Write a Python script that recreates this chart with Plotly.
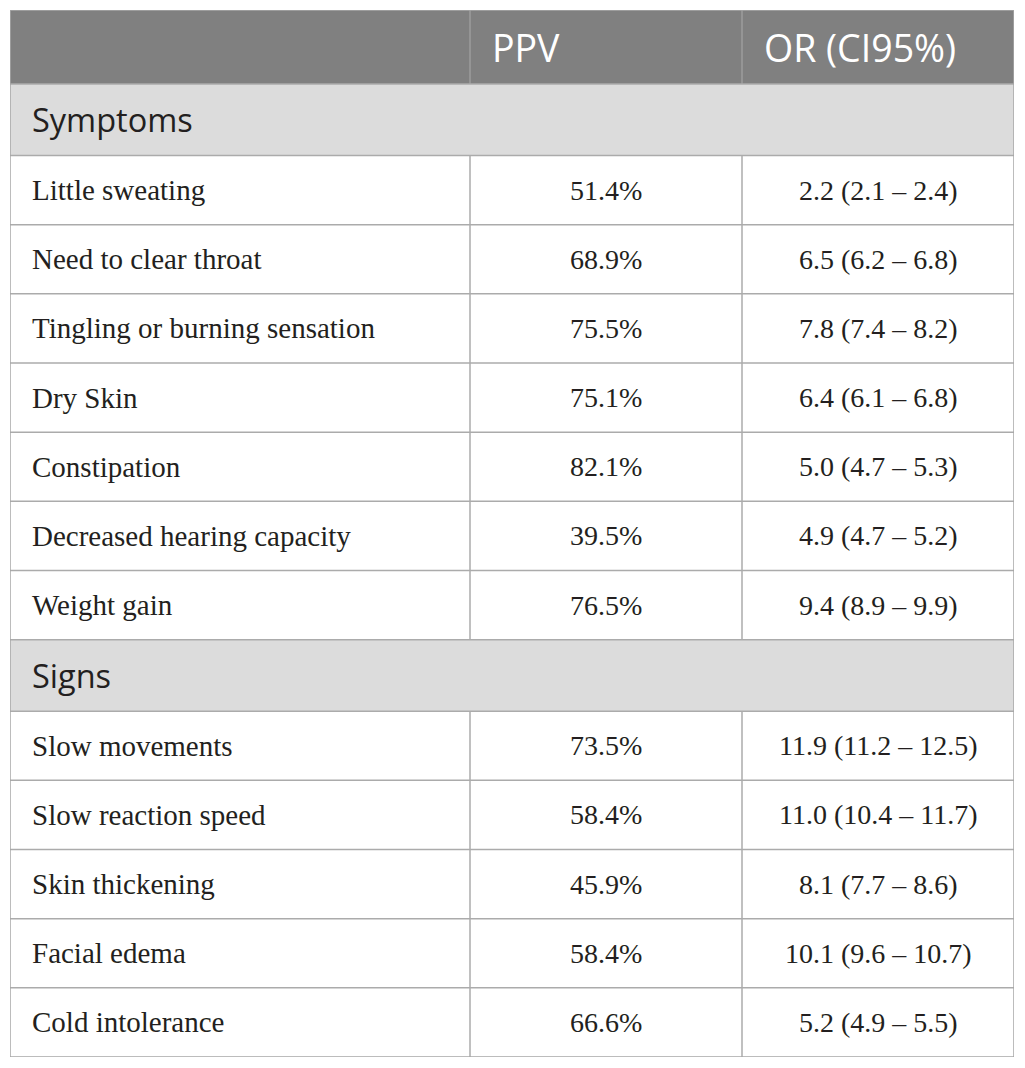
import numpy as np
import plotly.graph_objects as go

# table content
header_labels = ["", "PPV", "OR (CI95%)"]

section_names = ["Symptoms", "Signs"]

symptom_items = [
    "Little sweating",
    "Need to clear throat",
    "Tingling or burning sensation",
    "Dry Skin",
    "Constipation",
    "Decreased hearing capacity",
    "Weight gain",
]
symptom_ppv = ["51.4%", "68.9%", "75.5%", "75.1%", "82.1%", "39.5%", "76.5%"]
symptom_or = [
    "2.2 (2.1 \u2013 2.4)",
    "6.5 (6.2 \u2013 6.8)",
    "7.8 (7.4 \u2013 8.2)",
    "6.4 (6.1 \u2013 6.8)",
    "5.0 (4.7 \u2013 5.3)",
    "4.9 (4.7 \u2013 5.2)",
    "9.4 (8.9 \u2013 9.9)",
]

sign_items = [
    "Slow movements",
    "Slow reaction speed",
    "Skin thickening",
    "Facial edema",
    "Cold intolerance",
]
sign_ppv = ["73.5%", "58.4%", "45.9%", "58.4%", "66.6%"]
sign_or = [
    "11.9 (11.2 \u2013 12.5)",
    "11.0 (10.4 \u2013 11.7)",
    "8.1 (7.7 \u2013 8.6)",
    "10.1 (9.6 \u2013 10.7)",
    "5.2 (4.9 \u2013 5.5)",
]

# styling
col_widths = [460, 272, 272]
row_height = {"header": 74, "section": 71.5, "data": 69.15}
pad_left = 20

header_fill = "#808080"
header_line = "#9c9c9c"
section_fill = "#dcdcdc"
grid_line = "#ababab"
text_color = "#231f20"

sans = "Open Sans"
serif = "Liberation Serif"

# build row list: (kind, cells)
rows = [("header", header_labels)]
for name, items, ppv, ors in [
    (section_names[0], symptom_items, symptom_ppv, symptom_or),
    (section_names[1], sign_items, sign_ppv, sign_or),
]:
    rows.append(("section", [name]))
    for item, p, o in zip(items, ppv, ors):
        rows.append(("data", [item, p, o]))

col_edges = np.concatenate([[0], np.cumsum(col_widths)])
heights = [row_height[kind] for kind, _ in rows]
row_edges = np.concatenate([[0], np.cumsum(heights)])
total_w = col_edges[-1]
total_h = row_edges[-1]

shapes = []
annotations = []

for ix, (kind, cells) in enumerate(rows):
    y0, y1 = row_edges[ix], row_edges[ix + 1]
    ym = (y0 + y1) / 2
    if kind == "header":
        shapes.append(dict(type="rect", x0=0, x1=total_w, y0=y0, y1=y1,
                           fillcolor=header_fill, line_width=0, layer="below"))
        for c, label in enumerate(cells):
            if label:
                annotations.append(dict(
                    x=col_edges[c] + pad_left, y=ym, text=label,
                    xanchor="left", yanchor="middle", showarrow=False,
                    font=dict(family=sans, size=37.5, color="white"),
                ))
        for c in range(1, len(col_widths)):
            shapes.append(dict(type="line", x0=col_edges[c], x1=col_edges[c],
                               y0=y0, y1=y1, line=dict(color=header_line, width=1.5)))
    elif kind == "section":
        shapes.append(dict(type="rect", x0=0, x1=total_w, y0=y0, y1=y1,
                           fillcolor=section_fill, line_width=0, layer="below"))
        annotations.append(dict(
            x=pad_left, y=ym, text=cells[0],
            xanchor="left", yanchor="middle", showarrow=False,
            font=dict(family=sans, size=32.5, color=text_color),
        ))
    else:
        for c, label in enumerate(cells):
            if c == 0:
                annotations.append(dict(
                    x=pad_left, y=ym, text=label,
                    xanchor="left", yanchor="middle", showarrow=False,
                    font=dict(family=serif, size=29, color=text_color),
                ))
            else:
                annotations.append(dict(
                    x=(col_edges[c] + col_edges[c + 1]) / 2, y=ym, text=label,
                    xanchor="center", yanchor="middle", showarrow=False,
                    font=dict(family=serif, size=28, color=text_color),
                ))
        for c in range(1, len(col_widths)):
            shapes.append(dict(type="line", x0=col_edges[c], x1=col_edges[c],
                               y0=y0, y1=y1, line=dict(color=grid_line, width=1.5)))

# horizontal rules below header
for ix in range(1, len(rows)):
    shapes.append(dict(type="line", x0=0, x1=total_w, y0=row_edges[ix], y1=row_edges[ix],
                       line=dict(color=grid_line, width=1.5)))

# outer border
shapes.append(dict(type="rect", x0=0, x1=total_w, y0=0, y1=total_h,
                   line=dict(color="#a6a6a6", width=1.5)))

# page body keeps an 8px margin, so the figure is 16px smaller than the window
fig = go.Figure()
fig.update_layout(
    width=1009,
    height=1052,
    margin=dict(l=2, r=3, t=2, b=3),
    paper_bgcolor="white",
    plot_bgcolor="white",
    showlegend=False,
    shapes=shapes,
    annotations=annotations,
    xaxis=dict(range=[0, total_w], visible=False, fixedrange=True),
    yaxis=dict(range=[total_h, 0], visible=False, fixedrange=True),
)

fig.write_html("out.html", config={"displayModeBar": False})
